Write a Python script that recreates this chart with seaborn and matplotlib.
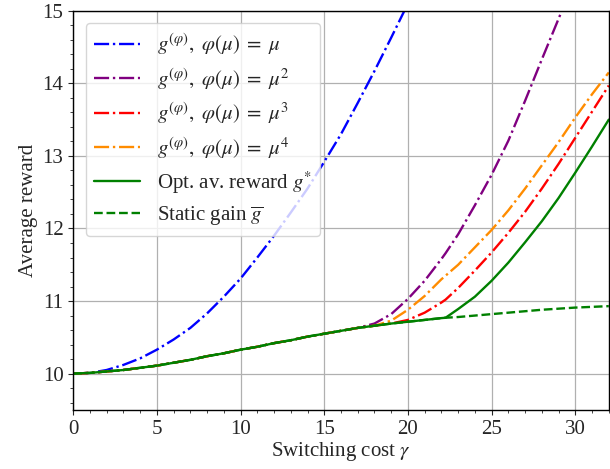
import numpy as np
import pandas as pd
import matplotlib
matplotlib.use("Agg")
import matplotlib.pyplot as plt
import seaborn as sns
from matplotlib.ticker import MultipleLocator

# values
gamma = [0, 1, 2, 3, 4, 5, 6, 7, 8, 9, 10, 11, 12, 13, 14, 15, 16, 17, 18, 19, 20,
         21, 22, 22.25, 23, 24, 25, 26, 27, 28, 29, 30, 31, 32]

static_gain = [10.00, 10.01, 10.03, 10.05, 10.08, 10.11, 10.15, 10.19, 10.24, 10.28, 10.33,
               10.37, 10.42, 10.46, 10.51, 10.55, 10.59, 10.63, 10.66, 10.69, 10.715,
               10.74, 10.765, 10.77, 10.78, 10.80, 10.82, 10.84, 10.86, 10.88, 10.895,
               10.91, 10.92, 10.93]

opt_reward = [10.00, 10.01, 10.03, 10.05, 10.08, 10.11, 10.15, 10.19, 10.24, 10.28, 10.33,
              10.37, 10.42, 10.46, 10.51, 10.55, 10.59, 10.63, 10.66, 10.69, 10.715,
              10.74, 10.765, 10.77, 10.89, 11.06, 11.28, 11.53, 11.81, 12.10, 12.42,
              12.77, 13.13, 13.50]

g_mu1 = [10.00, 10.01, 10.05, 10.12, 10.21, 10.33, 10.47, 10.63, 10.83, 11.06, 11.31,
         11.60, 11.90, 12.22, 12.55, 12.92, 13.30, 13.73, 14.17, 14.63, 15.10,
         15.5, 15.9, 16.0, 16.3, 16.7, 17.1, 17.5, 17.9, 18.3, 18.7, 19.1, 19.5, 19.9]

g_mu2 = [10.00, 10.01, 10.03, 10.05, 10.08, 10.11, 10.15, 10.19, 10.24, 10.28, 10.33,
         10.37, 10.42, 10.46, 10.51, 10.55, 10.59, 10.63, 10.69, 10.82, 11.03,
         11.28, 11.58, 11.66, 11.92, 12.32, 12.74, 13.21, 13.76, 14.33, 14.89, 15.45, 16.0, 16.6]

g_mu3 = [10.00, 10.01, 10.03, 10.05, 10.08, 10.11, 10.15, 10.19, 10.24, 10.28, 10.33,
         10.37, 10.42, 10.46, 10.51, 10.55, 10.59, 10.63, 10.66, 10.69, 10.74,
         10.84, 10.98, 11.02, 11.18, 11.42, 11.67, 11.94, 12.23, 12.55, 12.89, 13.25, 13.61, 13.97]

g_mu4 = [10.00, 10.01, 10.03, 10.05, 10.08, 10.11, 10.15, 10.19, 10.24, 10.28, 10.33,
         10.37, 10.42, 10.46, 10.51, 10.55, 10.59, 10.63, 10.66, 10.73, 10.88,
         11.07, 11.30, 11.35, 11.50, 11.74, 11.98, 12.25, 12.55, 12.87, 13.19, 13.53, 13.85, 14.15]

df = pd.DataFrame({"gamma": gamma, "mu1": g_mu1, "mu2": g_mu2, "mu3": g_mu3,
                   "mu4": g_mu4, "opt": opt_reward, "static": static_gain})

sns.set_style("ticks")
plt.rcParams["font.family"] = ["Liberation Serif", "DejaVu Serif"]
plt.rcParams["mathtext.fontset"] = "stix"
plt.rcParams["font.size"] = 15

fig, ax = plt.subplots(figsize=(6.1, 4.69), dpi=100)
fig.subplots_adjust(left=0.12, right=0.998, top=0.977, bottom=0.126)

lw = 1.7
sns.lineplot(data=df, x="gamma", y="mu1", ax=ax, color="blue", linestyle="-.", lw=lw,
             label=r"$g^{(\varphi)},\ \varphi(\mu)\;=\;\mu$")
sns.lineplot(data=df, x="gamma", y="mu2", ax=ax, color="purple", linestyle="-.", lw=lw,
             label=r"$g^{(\varphi)},\ \varphi(\mu)\;=\;\mu^2$")
sns.lineplot(data=df, x="gamma", y="mu3", ax=ax, color="red", linestyle="-.", lw=lw,
             label=r"$g^{(\varphi)},\ \varphi(\mu)\;=\;\mu^3$")
sns.lineplot(data=df, x="gamma", y="mu4", ax=ax, color="darkorange", linestyle="-.", lw=lw,
             label=r"$g^{(\varphi)},\ \varphi(\mu)\;=\;\mu^4$")
sns.lineplot(data=df, x="gamma", y="opt", ax=ax, color="green", linestyle="-", lw=lw,
             label=r"Opt. av. reward $g^{*}$")
sns.lineplot(data=df, x="gamma", y="static", ax=ax, color="green", linestyle="--", lw=lw,
             label=r"Static gain $\overline{g}$")

ax.set_xlim(0, 32)
ax.set_ylim(9.5, 15)
ax.xaxis.set_major_locator(MultipleLocator(5))
ax.xaxis.set_minor_locator(MultipleLocator(1))
ax.yaxis.set_major_locator(MultipleLocator(1))
ax.yaxis.set_minor_locator(MultipleLocator(0.2))
ax.grid(True, which="major", color="#b0b0b0", lw=0.9)
ax.tick_params(labelsize=15)
ax.set_xlabel(r"Switching cost $\gamma$", fontsize=15, labelpad=1)
ax.set_ylabel("Average reward", fontsize=15, labelpad=3)
for s in ax.spines.values():
    s.set_color("black")
    s.set_linewidth(1.0)

ax.legend(loc="upper left", fontsize=15, handlelength=2.2, framealpha=0.8,
          labelspacing=0.42, borderaxespad=0.6)

plt.savefig("out.png", dpi=100)
